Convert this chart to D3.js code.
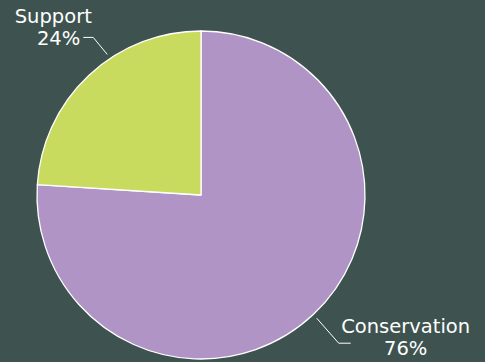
<!DOCTYPE html>
<html>
<head>
<meta charset="utf-8">
<script src="https://cdn.jsdelivr.net/npm/d3@7"></script>
<style>
  html, body { margin: 0; padding: 0; background: #3e5350; }
  svg { display: block; }
  text { font-family: "DejaVu Sans", "Noto Sans", sans-serif; fill: #ffffff; }
</style>
</head>
<body>
<svg id="chart" width="485" height="362"></svg>
<script>
// Share of effort by category (percent)
const categories = ["Conservation", "Support"];
const values = [76, 24];
const colors = ["#b094c6", "#c9db5e"];

const width = 485, height = 362;
const cx = 201, cy = 195, radius = 164;

const svg = d3.select("#chart");
svg.append("rect").attr("width", width).attr("height", height).attr("fill", "#3e5350");

const g = svg.append("g").attr("transform", `translate(${cx},${cy})`);

const pie = d3.pie().sort(null).value(d => d.value);
const arcs = pie(categories.map((c, i) => ({ name: c, value: values[i], color: colors[i] })));
const arc = d3.arc().innerRadius(0).outerRadius(radius);

g.selectAll("path.slice")
  .data(arcs)
  .enter().append("path")
  .attr("class", "slice")
  .attr("d", arc)
  .attr("fill", d => d.data.color)
  .attr("stroke", "#ffffff")
  .attr("stroke-width", 1.3)
  .attr("stroke-linejoin", "round");

// Leader lines start just outside the rim at a fraction of the slice's sweep,
// bend outward to an elbow, then run a short horizontal stub toward the text.
const labelCfg = {
  Conservation: { frac: 0.5,  elbow: [22, 25],  stub: 12 },
  Support:      { frac: 0.61, elbow: [-14, -17], stub: -10 }
};

function polar(r, a) { return [r * Math.sin(a), -r * Math.cos(a)]; }

const fontSize = 19.5;

arcs.forEach(d => {
  const cfg = labelCfg[d.data.name];
  const a = d.startAngle + (d.endAngle - d.startAngle) * cfg.frac;
  const p0 = polar(radius + 5, a);
  const p1 = [p0[0] + cfg.elbow[0], p0[1] + cfg.elbow[1]];
  const p2 = [p1[0] + cfg.stub, p1[1]];
  g.append("polyline")
    .attr("points", [p0, p1, p2].map(p => p.join(",")).join(" "))
    .attr("fill", "none")
    .attr("stroke", "#ffffff")
    .attr("stroke-width", 1);

  const pct = Math.round(d.data.value) + "%";
  if (d.data.name === "Conservation") {
    const lx = p2[0] + 55;
    g.append("text").attr("x", lx).attr("y", p2[1] - 10)
      .attr("text-anchor", "middle").attr("font-size", fontSize).text(d.data.name);
    g.append("text").attr("x", lx).attr("y", p2[1] + 12)
      .attr("text-anchor", "middle").attr("font-size", fontSize).text(pct);
  } else {
    g.append("text").attr("x", p2[0] - 30).attr("y", p2[1] - 14)
      .attr("text-anchor", "middle").attr("font-size", fontSize).text(d.data.name);
    g.append("text").attr("x", p2[0] - 3).attr("y", p2[1] + 8)
      .attr("text-anchor", "end").attr("font-size", fontSize).text(pct);
  }
});
</script>
</body>
</html>
